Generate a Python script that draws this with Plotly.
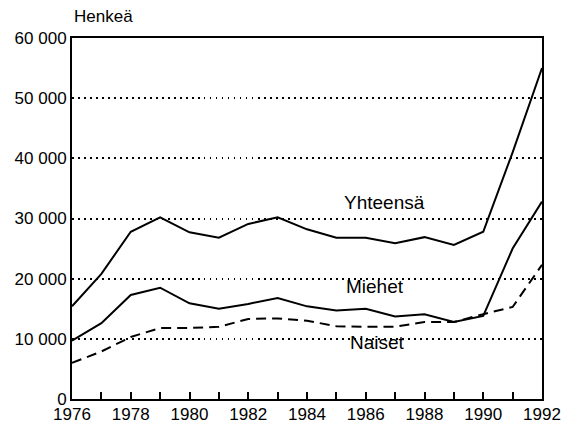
import plotly.graph_objects as go

years = list(range(1976, 1993))
yhteensa = [15400, 20800, 27800, 30200, 27700, 26800, 29100, 30200, 28200, 26800,
            26800, 25900, 26900, 25600, 27800, 41000, 55000]
miehet = [9700, 12600, 17300, 18500, 15900, 15000, 15800, 16800, 15400, 14700,
          15000, 13700, 14100, 12800, 13800, 25000, 32800]
naiset = [6000, 7900, 10300, 11800, 11800, 12000, 13300, 13400, 13000, 12100,
          12000, 12000, 12800, 12800, 14100, 15300, 22300]

font = "Liberation Sans, Arial, sans-serif"

fig = go.Figure()
fig.add_trace(go.Scatter(x=years, y=yhteensa, mode="lines",
                         line=dict(color="black", width=2)))
fig.add_trace(go.Scatter(x=years, y=miehet, mode="lines",
                         line=dict(color="black", width=2)))
fig.add_trace(go.Scatter(x=years, y=naiset, mode="lines",
                         line=dict(color="black", width=2, dash="10px,6px")))

labels = [("Yhteensä", 1986.65, 32700), ("Miehet", 1986.3, 18700), ("Naiset", 1986.4, 9400)]
for txt, lx, ly in labels:
    fig.add_annotation(x=lx, y=ly, text=txt, showarrow=False,
                       font=dict(size=19, color="black", family=font))

fig.add_annotation(xref="paper", yref="paper", x=0, y=1.06, text="Henkeä",
                   showarrow=False, xanchor="left", yanchor="middle",
                   font=dict(size=17, color="black", family=font))

# the page adds an 8px body margin, so the figure is a bit smaller than the window
fig.update_layout(
    width=564, height=415,
    margin=dict(l=64, r=30, t=30, b=24),
    paper_bgcolor="white", plot_bgcolor="white",
    showlegend=False,
    separators=". ",
    font=dict(family=font, size=17, color="black"),
)
fig.update_xaxes(range=[1976, 1992], dtick=2, tick0=1976, ticks="inside", ticklen=7,
                 tickcolor="black", tickwidth=1.5, automargin=False, ticklabelstandoff=-1,
                 minor=dict(dtick=1, ticks="inside", ticklen=7, tickcolor="black", tickwidth=1.5),
                 showgrid=False, showline=True, linecolor="black", linewidth=2,
                 mirror=True, zeroline=False)
fig.update_yaxes(range=[0, 60000], dtick=10000, tickformat=",d", ticks="",
                 automargin=False, ticklabelstandoff=0,
                 showgrid=True, gridcolor="black", griddash="1.5px,4.5px", gridwidth=1.5,
                 showline=True, linecolor="black", linewidth=2, mirror=True,
                 zeroline=False)

fig.write_html("out.html")
